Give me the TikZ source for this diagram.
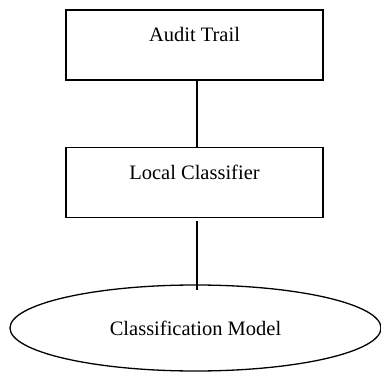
\documentclass[tikz,border=0pt]{standalone}
\usepackage{fontspec}
\setmainfont{Liberation Serif}
\usetikzlibrary{shapes.geometric}
\begin{document}
\begin{tikzpicture}[x=1pt,y=1pt,
  every node/.style={font=\fontsize{20.5}{24}\selectfont},
  boxnode/.style={draw, line width=1.5pt, rectangle, minimum width=257pt, minimum height=70pt, inner sep=0pt, text height=14pt, text depth=21pt},
  ellnode/.style={draw, line width=1.3pt, ellipse, minimum width=371pt, minimum height=86pt, inner sep=0pt},
  conn/.style={line width=1.5pt}]
\useasboundingbox (0,0) rectangle (381,376);
\node[boxnode] (audit) at (194.5,331) {Audit Trail};
\node[boxnode] (local) at (194.5,193.5) {Local Classifier};
\node[ellnode] (model) at (195.5,48) {Classification Model};
\draw[conn] (audit.south -| 197,0) -- (local.north -| 197,0);
\draw[conn] ([yshift=-3pt]local.south -| 197,0) -- ([yshift=-6pt]model.north -| 197,0);
\end{tikzpicture}
\end{document}
